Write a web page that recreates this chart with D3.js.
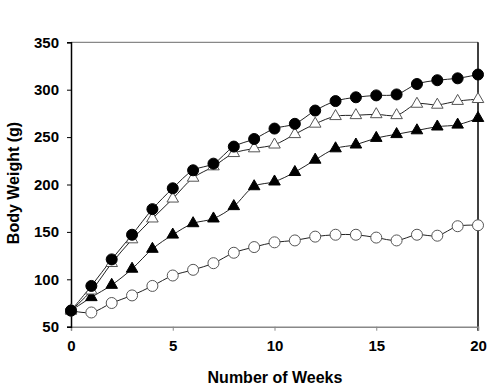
<!DOCTYPE html>
<html><head><meta charset="utf-8">
<script src="https://cdn.jsdelivr.net/npm/d3@7"></script>
<style>body{margin:0;background:#fff}svg{display:block}text{font-family:Arial,"Liberation Sans",sans-serif;font-weight:bold;fill:#000}</style>
</head><body><svg id="c" width="500" height="390"></svg>
<script>
const weeks = d3.range(0, 21);
const filledCircle = [67,93,121,147,174,196,215,222,240,248,259,264,278,288,292,294,295,306,310,312,316];
const openTriangle = [67,88,117,142,164,185,207,219,233,238,242,253,264,272,273,274,273,285,284,288,290];
const filledTriangle = [67,81,94,111,132,147,159,164,177,198,203,213,226,238,242,249,253,257,261,263,270];
const openCircle = [67,65,75,83,93,104,110,117,128,134,139,141,145,147,147,144,141,147,146,156,157];
const xTicks = [0,5,10,15,20];
const yTicks = [50,100,150,200,250,300,350];

const svg = d3.select("#c");
const x = d3.scaleLinear().domain([0,20]).range([71,478]);
const y = d3.scaleLinear().domain([50,350]).range([326.7,42.3]);

// frame
svg.append("line").attr("x1",x(0)).attr("x2",x(20)).attr("y1",y(350)).attr("y2",y(350)).attr("stroke","#888").attr("stroke-width",1.2);
svg.append("line").attr("x1",x(20)).attr("x2",x(20)).attr("y1",y(350)).attr("y2",y(50)+4).attr("stroke","#000").attr("stroke-width",1.5);

const xa = svg.append("g").attr("transform",`translate(0,${y(50)})`)
  .call(d3.axisBottom(x).tickValues(xTicks).tickSize(4).tickPadding(10).tickFormat(d3.format("d")));
xa.select(".domain").attr("stroke","#888").attr("stroke-width",1.5);
xa.selectAll(".tick line").attr("stroke","#888");
xa.selectAll("text").attr("font-size",15).attr("font-family","Arial, Liberation Sans, sans-serif").attr("font-weight","bold").attr("fill","#000");

const ya = svg.append("g").attr("transform",`translate(${x(0)},0)`)
  .call(d3.axisLeft(y).tickValues(yTicks).tickSize(4).tickPadding(8).tickFormat(d3.format("d")));
ya.select(".domain").attr("stroke","#000").attr("stroke-width",1.5);
ya.selectAll(".tick line").attr("stroke","#000");
ya.selectAll("text").attr("font-size",15).attr("font-family","Arial, Liberation Sans, sans-serif").attr("font-weight","bold").attr("fill","#000");

svg.append("text").attr("x",275).attr("y",383).attr("text-anchor","middle").attr("font-size",16).text("Number of Weeks");
svg.append("text").attr("transform","translate(19,183) rotate(-90)").attr("text-anchor","middle").attr("font-size",16).text("Body Weight (g)");

const series = [
  {v: openCircle, shape:"circle", fill:"#fff"},
  {v: filledTriangle, shape:"triangle", fill:"#000"},
  {v: openTriangle, shape:"triangle", fill:"#fff"},
  {v: filledCircle, shape:"circle", fill:"#000"}
];
const line = d3.line().x((d,i)=>x(weeks[i])).y(d=>y(d)).curve(d3.curveCatmullRom.alpha(0.5));
series.forEach(s=>{
  svg.append("path").attr("d",line(s.v)).attr("fill","none").attr("stroke","#222").attr("stroke-width",1);
});
series.forEach(s=>{
  const g = svg.append("g");
  if (s.shape==="circle") {
    g.selectAll("circle").data(s.v).join("circle")
      .attr("cx",(d,i)=>x(weeks[i])).attr("cy",d=>y(d)).attr("r",5.5)
      .attr("fill",s.fill).attr("stroke", s.fill==="#000"?"#000":"#555").attr("stroke-width",1);
  } else {
    const sym = d3.symbol().type(d3.symbolTriangle).size(58);
    g.selectAll("path").data(s.v).join("path")
      .attr("d",sym).attr("transform",(d,i)=>`translate(${x(weeks[i])},${y(d)})`)
      .attr("fill",s.fill).attr("stroke", s.fill==="#000"?"#000":"#555").attr("stroke-width",1);
  }
});
</script></body></html>
